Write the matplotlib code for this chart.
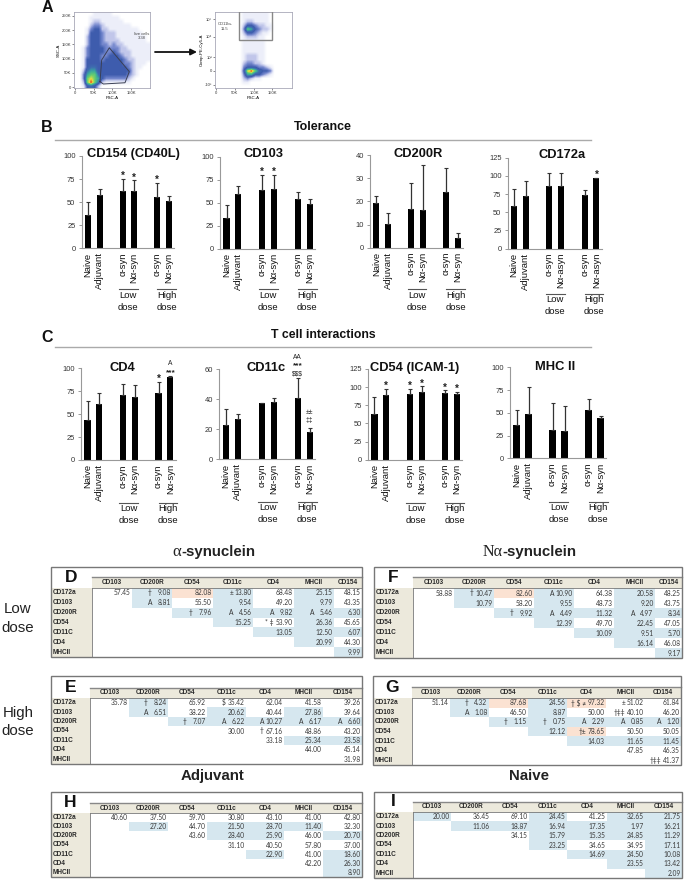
import matplotlib
matplotlib.use("Agg")
import matplotlib.pyplot as plt
from matplotlib.colors import LinearSegmentedColormap
from matplotlib.patches import Rectangle
import numpy as np

# ---------- data ----------
GROUPS = ["Naive", "Adjuvant", "α-syn", "Nα-syn", "α-syn", "Nα-syn"]
GROUPS_ASYN = ["Naive", "Adjuvant", "α-syn", "Nα-asyn", "α-syn", "Nα-asyn"]
SLOTS = [0, 1, 3, 4, 6, 7]

cd154_vals = [36, 58, 62.5, 62, 56, 51.5]
cd154_errs = [14, 6, 12.5, 11.5, 15, 5]
cd103_vals = [33, 59, 64, 65, 54, 49]
cd103_errs = [15, 9, 16, 15, 8, 5]
cd200r_vals = [19.5, 10.3, 16.8, 16.3, 24, 4.3]
cd200r_errs = [2.7, 4.9, 11, 19.3, 10.5, 1.9]
cd172a_vals = [58, 72, 86, 85.5, 74, 97]
cd172a_errs = [24, 20.5, 18, 18.5, 6, 0.5]
cd4_vals = [44, 61.5, 70.5, 68.5, 73.5, 90.5]
cd4_errs = [20, 12, 12.5, 13, 11.5, 1]
cd11c_vals = [23, 27, 37.5, 38, 41, 18]
cd11c_errs = [10.5, 3, 0.2, 3, 13, 3]
cd54_vals = [63.5, 89, 90, 93, 92, 90]
cd54_errs = [22.5, 9, 8, 8, 3.5, 3]
mhc_vals = [37, 49, 31, 29.5, 53, 44.5]
mhc_errs = [16, 29, 30, 28.5, 12, 2.5]

ROW_LABELS = ["CD172a", "CD103", "CD200R", "CD54", "CD11C", "CD4", "MHCII"]
COL_LABELS = ["CD103", "CD200R", "CD54", "CD11c", "CD4", "MHCII", "CD154"]

d_values = [["57.45", "9.08", "82.08", "13.80", "68.48", "25.15", "48.15"],
            ["8.81", "55.50", "9.54", "49.20", "9.79", "43.35"],
            ["7.96", "4.56", "9.82", "5.46", "6.30"],
            ["15.25", "53.90", "26.36", "45.65"],
            ["13.05", "12.50", "6.07"],
            ["20.99", "44.30"],
            ["9.99"]]
d_shade = [".bpb.b.", " b.b.b.", "  bbbbb", "   b.b.", "    bbb", "     b.", "      b"]
d_marks = {(0, 1): "†", (0, 3): "±", (1, 1): "A", (2, 2): "†", (2, 3): "A",
           (2, 4): "A", (2, 5): "A", (3, 4): "* ‡"}

e_values = [["35.78", "8.24", "65.92", "35.42", "62.04", "41.58", "39.26"],
            ["6.51", "38.22", "20.62", "40.44", "27.86", "39.64"],
            ["7.07", "6.22", "10.27", "6.17", "6.60"],
            ["30.00", "67.16", "48.86", "43.20"],
            ["33.18", "25.34", "23.58"],
            ["44.00", "45.14"],
            ["31.98"]]
e_shade = [".b.....", " b.b.b.", "  bbbbb", "   ....", "    .bb", "     ..", "      ."]
e_marks = {(0, 1): "†", (0, 3): "$", (1, 1): "A", (2, 2): "†", (2, 3): "A",
           (2, 4): "A", (2, 5): "A", (2, 6): "A", (3, 4): "†"}

f_values = [["58.88", "10.47", "82.60", "10.90", "64.38", "20.58", "48.25"],
            ["10.79", "58.20", "9.55", "48.73", "9.20", "43.75"],
            ["9.92", "4.49", "11.32", "4.97", "8.34"],
            ["12.39", "49.70", "22.45", "47.05"],
            ["10.09", "9.51", "5.70"],
            ["16.14", "46.08"],
            ["9.17"]]
f_shade = [".bpb.b.", " b.b.b.", "  bbbbb", "   b.b.", "    bbb", "     b.", "      b"]
f_marks = {(0, 1): "†", (0, 3): "A", (2, 2): "†", (2, 3): "A", (2, 5): "A"}

g_values = [["51.14", "4.32", "87.68", "24.56", "97.32", "51.02", "61.84"],
            ["1.08", "46.50", "8.87", "50.00", "40.10", "46.20"],
            ["1.15", "0.75", "2.29", "0.85", "1.20"],
            ["12.12", "78.65", "50.50", "50.05"],
            ["14.03", "11.65", "11.45"],
            ["47.85", "46.35"],
            ["41.37"]]
g_shade = [".bpbp..", " b.b...", "  bbbbb", "   bp..", "    bbb", "     ..", "      ."]
g_marks = {(0, 1): "†", (0, 4): "† $ ≠", (0, 5): "±", (1, 1): "A", (1, 5): "†‡‡",
           (2, 2): "†", (2, 3): "†", (2, 4): "A", (2, 5): "A", (2, 6): "A",
           (3, 4): "†±", (6, 6): "†‡‡"}

h_values = [["40.60", "37.50", "59.70", "30.80", "43.10", "41.00", "42.80"],
            ["27.20", "44.70", "21.50", "28.70", "11.40", "32.30"],
            ["43.60", "28.40", "25.90", "46.00", "20.70"],
            ["31.10", "40.50", "57.80", "37.00"],
            ["22.90", "41.00", "18.60"],
            ["42.20", "26.30"],
            ["8.90"]]
h_shade = [".......", " b.bbb.", "  .bb.b", "   ....", "    b.b", "     .b", "      b"]

i_values = [["20.00", "36.45", "69.10", "24.45", "41.25", "32.65", "21.75"],
            ["11.06", "18.87", "16.94", "17.35", "1.97", "16.21"],
            ["34.15", "15.79", "15.35", "24.85", "11.29"],
            ["23.25", "34.65", "34.95", "17.11"],
            ["14.69", "24.50", "10.08"],
            ["23.55", "13.42"],
            ["2.09"]]
i_shade = ["b..b.bb", " bbbbbb", "  .bbbb", "   b..b", "    bbb", "     bb", "      b"]

# flow cytometry density, coarse grid (0 empty ... 9 peak)
density_left = np.array([
    [0,0,0,0,0,1,1,1,1,1,0,0,0,0,0,0,0,0,0,0],
    [0,0,0,0,1,1,1,1,1,1,1,1,0,0,0,0,0,0,0,0],
    [0,0,0,0,1,2,2,1,1,1,1,1,1,0,0,0,0,0,0,0],
    [0,0,0,0,2,3,3,2,1,1,1,1,1,1,1,0,0,0,0,0],
    [0,0,0,1,3,4,4,2,2,1,1,1,1,1,1,1,1,0,0,0],
    [0,0,0,1,4,4,4,3,2,2,2,1,1,1,1,1,1,1,0,0],
    [0,0,0,2,4,4,4,3,2,2,2,1,1,1,1,1,1,1,1,0],
    [0,0,0,2,4,4,4,3,2,2,2,2,1,1,1,1,1,1,1,0],
    [0,0,0,2,4,4,4,3,3,2,3,2,2,1,1,1,1,1,1,1],
    [0,0,1,3,4,4,4,4,3,3,3,3,2,2,1,1,1,1,1,1],
    [0,0,1,3,4,4,4,4,3,3,4,3,2,2,2,1,1,1,1,1],
    [0,0,1,3,4,4,4,3,3,4,4,4,3,2,2,1,1,1,1,1],
    [0,0,1,4,4,4,4,3,4,4,4,4,4,3,2,2,1,1,1,1],
    [0,0,1,4,4,4,4,4,4,4,4,4,4,3,3,2,1,1,1,0],
    [0,0,1,4,5,5,4,4,4,4,4,4,4,4,3,2,1,1,0,0],
    [0,0,2,5,6,6,4,4,4,4,4,4,4,4,4,2,1,0,0,0],
    [0,0,3,6,7,7,5,4,4,4,4,4,4,4,3,2,1,0,0,0],
    [0,0,3,7,8,7,6,4,3,3,3,3,3,3,2,1,0,0,0,0],
    [0,0,2,7,9,7,5,2,1,1,1,1,1,1,1,0,0,0,0,0],
    [0,0,1,4,5,4,2,0,0,0,0,0,0,0,0,0,0,0,0,0]], float)
density_right = np.array([
    [0,0,0,0,0,0,0,1,1,1,1,1,1,1,0,0,0,0,0,0],
    [0,0,0,0,0,0,0,1,1,1,1,1,1,1,0,0,0,0,0,0],
    [0,0,0,0,0,0,0,1,2,2,1,1,1,1,0,0,0,0,0,0],
    [0,0,0,0,0,0,0,2,4,4,3,2,2,1,1,0,0,0,0,0],
    [0,0,0,0,0,0,0,3,7,6,4,3,2,2,1,0,0,0,0,0],
    [0,0,0,0,0,0,0,2,4,4,3,2,1,1,0,0,0,0,0,0],
    [0,0,0,0,0,0,0,1,2,2,2,1,1,0,0,0,0,0,0,0],
    [0,0,0,0,0,0,0,1,1,1,1,1,1,0,0,0,0,0,0,0],
    [0,0,0,0,0,0,0,1,1,1,1,1,1,0,0,0,0,0,0,0],
    [0,0,0,0,0,0,0,1,1,1,1,1,1,0,0,0,0,0,0,0],
    [0,0,0,0,0,0,0,1,1,1,1,1,1,0,0,0,0,0,0,0],
    [0,0,0,0,0,0,0,1,2,2,2,1,1,0,0,0,0,0,0,0],
    [0,0,0,0,0,0,0,1,2,2,2,1,1,0,0,0,0,0,0,0],
    [0,0,0,0,0,0,0,2,3,3,2,2,1,0,0,0,0,0,0,0],
    [0,0,0,0,0,0,0,3,4,4,4,3,3,2,1,0,0,0,0,0],
    [0,0,0,0,0,0,0,4,8,9,7,5,4,4,3,0,0,0,0,0],
    [0,0,0,0,0,0,0,3,6,6,4,4,3,2,1,0,0,0,0,0],
    [0,0,0,0,0,0,0,2,3,2,1,1,0,0,0,0,0,0,0,0],
    [0,0,0,0,0,0,0,1,1,0,0,0,0,0,0,0,0,0,0,0],
    [0,0,0,0,0,0,0,0,0,0,0,0,0,0,0,0,0,0,0,0]], float)
gate_fsc = [67, 71.5, 92, 145.5, 134, 76, 67]
gate_ssc = [18.7, 95, 138, 54, 15, 10.6, 18.7]

# ---------- figure ----------
W, H = 685, 881
fig = plt.figure(figsize=(W / 100, H / 100), dpi=100, facecolor="white")
SANS = ["Liberation Sans", "DejaVu Sans"]
CELL = ["Lato", "DejaVu Sans"]
plt.rcParams["font.family"] = SANS


def axes_px(x0, x1, y_top, y_bot, **kw):
    return fig.add_axes([x0 / W, 1 - y_bot / H, (x1 - x0) / W, (y_bot - y_top) / H], **kw)


ov = fig.add_axes([0, 0, 1, 1], zorder=20)
ov.set_xlim(0, W)
ov.set_ylim(H, 0)
ov.axis("off")
ov.patch.set_alpha(0)

# ---------- panel A ----------
facs = LinearSegmentedColormap.from_list("facs", [
    (0 / 9, "#ffffff"), (1 / 9, "#eceef9"), (2 / 9, "#c0c6ea"), (3 / 9, "#7487cd"),
    (4 / 9, "#3e5cad"), (5 / 9, "#3f6cb0"), (6 / 9, "#3aa6a0"), (7 / 9, "#62cc72"),
    (8 / 9, "#e6df42"), (9 / 9, "#ee2c1c")])


def style_facs(ax):
    for s in ax.spines.values():
        s.set_color("#a8a8b8")
        s.set_linewidth(0.6)
    ax.tick_params(labelsize=3.0, length=1.2, width=0.4, pad=0.8, colors="#333333")


ax = axes_px(74, 150, 12, 88)
ax.imshow(density_left, cmap=facs, vmin=0, vmax=9, interpolation="bilinear",
          extent=[-2.7, 201, -3.5, 264], aspect="auto", zorder=1)
ax.plot(gate_fsc, gate_ssc, color="#3a3f55", lw=0.7, zorder=2)
ax.set_xticks([0, 50, 100, 150], ["0", "50K", "100K", "150K"])
ax.set_yticks([0, 50, 100, 150, 200, 250], ["0", "50K", "100K", "150K", "200K", "250K"])
style_facs(ax)
ax.set_xlabel("FSC-A", fontsize=3.2, labelpad=1)
ax.set_ylabel("SSC-A", fontsize=3.2, labelpad=1)
ax.text(178, 180, "live cells\n3.38", fontsize=3.0, ha="center", va="center", color="#444444")

ax = axes_px(215, 292, 12, 88)
ax.imshow(density_right, cmap=facs, vmin=0, vmax=9, interpolation="bilinear",
          extent=[215, 292, 88, 12], aspect="auto", zorder=1)
ax.set_xlim(215, 292)
ax.set_ylim(88, 12)
ax.set_xticks([216, 235, 254, 272], ["0", "50K", "100K", "150K"])
ax.set_yticks([85, 70.7, 57.3, 36.7, 19.3], ["-10³", "0", "10³", "10⁴", "10⁵"])
style_facs(ax)
ax.add_patch(Rectangle((239, 11), 33, 29, fill=False, ec="#888888", lw=1.0, zorder=3, clip_on=True))
ax.text(225, 26.5, "CD11b+\n11.5", fontsize=3.0, ha="center", va="center", color="#444444")
ax.set_xlabel("FSC-A", fontsize=3.2, labelpad=1)
ax.set_ylabel("Comp-PE-Cy5-A", fontsize=3.2, labelpad=1)

ov.annotate("", xy=(197, 52), xytext=(155, 52),
            arrowprops=dict(arrowstyle="-|>", color="#111111", lw=1.3, mutation_scale=9,
                            shrinkA=0, shrinkB=0))

# ---------- bar panels ----------
PANELS = [
    ("CD154 (CD40L)", 133, 154, cd154_vals, cd154_errs, 100, [0, 25, 50, 75, 100], 81.7, 174, 156, 248.3, 289, GROUPS,
     [(2, "*", 0), (3, "*", 0), (4, "*", 0)]),
    ("CD103", 264, 154, cd103_vals, cd103_errs, 100, [0, 25, 50, 75, 100], 220, 315, 156.7, 248.7, 289, GROUPS,
     [(2, "*", 0), (3, "*", 0)]),
    ("CD200R", 418, 154, cd200r_vals, cd200r_errs, 40, [0, 10, 20, 30, 40], 370, 463, 155.3, 247.7, 289, GROUPS, []),
    ("CD172a", 562, 155, cd172a_vals, cd172a_errs, 125, [0, 25, 50, 75, 100, 125], 507.7, 601.7, 157.7, 248.7, 294, GROUPS_ASYN,
     [(5, "*", 0)]),
    ("CD4", 122, 368, cd4_vals, cd4_errs, 100, [0, 25, 50, 75, 100], 81, 175.7, 368.3, 460, 502.7, GROUPS,
     [(4, "*", 0), (5, "***", 0), (5, "A", 8)]),
    ("CD11c", 266, 368, cd11c_vals, cd11c_errs, 60, [0, 20, 40, 60], 219.3, 315, 369, 459.3, 501.7, GROUPS,
     [(4, "$$$", -1), (4, "***", 9), (4, "AA", 16), (5, "‡‡", 2), (5, "±±", 10)]),
    ("CD54 (ICAM-1)", 415, 368, cd54_vals, cd54_errs, 125, [0, 25, 50, 75, 100, 125], 368, 462.3, 369, 459.7, 502.7, GROUPS,
     [(1, "*", 0), (2, "*", 0), (3, "*", 0), (4, "*", 0), (5, "*", 0)]),
    ("MHC II", 555, 367, mhc_vals, mhc_errs, 100, [0, 25, 50, 75, 100], 510, 606, 367.3, 458.3, 501.7, GROUPS, []),
]

for title, tx, ty, vals, errs, ymax, ticks, x0, x1, yt, yb, by, labels, marks in PANELS:
    ax = axes_px(x0, x1, yt, yb)
    ax.patch.set_alpha(0)
    ax.bar(SLOTS, vals, width=0.52, color="black")
    ax.errorbar(SLOTS, vals, yerr=[np.zeros(6), errs], fmt="none", ecolor="#333333",
                elinewidth=0.9, capsize=1.6, capthick=0.8)
    ax.set_xlim(-0.55, 7.45)
    ax.set_ylim(0, ymax)
    ax.set_yticks(ticks)
    ax.tick_params(axis="y", labelsize=5.4, length=2.5, width=0.6, color="#888888",
                   labelcolor="#333333", pad=2)
    ax.set_xticks(SLOTS, labels, rotation=90, fontsize=6.8, color="#111111")
    ax.tick_params(axis="x", length=0, pad=3)
    for s in ("top", "right"):
        ax.spines[s].set_visible(False)
    for s in ("left", "bottom"):
        ax.spines[s].set_color("#999999")
        ax.spines[s].set_linewidth(0.8)
    for idx, lab, off in marks:
        top = vals[idx] + errs[idx]
        is_star = lab.strip("*") == ""
        ax.annotate(lab, xy=(SLOTS[idx], top), xytext=(0, (3 if is_star else 5) + off),
                    textcoords="offset pixels", ha="center", va="center",
                    fontsize=(7.0 if lab == "*" else 6.0) if is_star else 4.8, color="#222222",
                    fontweight="bold" if is_star else "normal", annotation_clip=False)
    ov.text(tx, ty, title, fontsize=9.3, fontweight="bold", ha="center", va="center", color="#111111")
    slot = (x1 - x0) / 8
    for center, word in ((3.5, "Low"), (6.8, "High")):
        cx = x0 + (center + 0.55) * slot
        ov.plot([cx - 0.8 * slot, cx + 0.8 * slot], [by, by], color="#555555", lw=0.8)
        ov.text(cx, by + 6, word, fontsize=6.8, ha="center", va="center", color="#111111")
        ov.text(cx, by + 18, "dose", fontsize=6.8, ha="center", va="center", color="#111111")

# ---------- section headers ----------
for lab, x, y in (("A", 47, 8), ("B", 47, 127), ("C", 47, 337)):
    ov.text(x, y, lab, fontsize=11.5, fontweight="bold", ha="center", va="center", color="#111111")
ov.text(323, 127, "Tolerance", fontsize=8.9, fontweight="bold", ha="center", va="center", color="#111111")
ov.text(323, 335, "T cell interactions", fontsize=8.8, fontweight="bold", ha="center", va="center", color="#111111")
for y in (140, 347):
    ov.plot([55, 591], [y, y], color="#aaaaaa", lw=1.0)

# ---------- group titles ----------
ov.text(181, 552, "α", fontsize=12, family="Liberation Serif", ha="right", va="center", color="#222222")
ov.text(181, 552, "-synuclein", fontsize=10.8, fontweight="bold", ha="left", va="center", color="#222222")
ov.text(503, 552, "Nα", fontsize=11.5, family="Liberation Serif", ha="right", va="center", color="#222222")
ov.text(502, 552, "-synuclein", fontsize=10.8, fontweight="bold", ha="left", va="center", color="#222222")
ov.text(213, 776, "Adjuvant", fontsize=10.8, fontweight="bold", ha="center", va="center", color="#222222")
ov.text(529, 776, "Naive", fontsize=10.8, fontweight="bold", ha="center", va="center", color="#222222")
for word, x, y in (("Low", 18, 609), ("dose", 18, 628), ("High", 18, 713), ("dose", 18, 731)):
    ov.text(x, y, word, fontsize=10.8, ha="center", va="center", color="#222222")

# ---------- tables ----------
BLUE = "#d6e7ef"
PEACH = "#fbe2d2"
BEIGE = "#ece9dc"


def table(letter, x0, x1, y0, y1, head_top, head_bot, cols, values, shade, marks):
    ov.add_patch(Rectangle((x0, head_bot), cols[0] - x0, y1 - head_bot, fc=BEIGE, ec="none", zorder=1))
    ov.add_patch(Rectangle((cols[0], head_top), x1 - cols[0], head_bot - head_top, fc=BEIGE, ec="none", zorder=1))
    ov.plot([cols[0], x1], [head_top, head_top], color="#888888", lw=1.0, zorder=3)
    ov.plot([cols[0], x1], [head_bot, head_bot], color="#777777", lw=0.6, zorder=3)
    ov.plot([cols[0], cols[0]], [head_bot, y1], color="#777777", lw=0.6, zorder=3)
    h = (y1 - head_bot) / 7
    for c, lab in enumerate(COL_LABELS):
        ov.text((cols[c] + cols[c + 1]) / 2, (head_top + head_bot) / 2, lab, fontsize=4.7,
                fontweight="bold", ha="center", va="center", color="#2a2a2a", zorder=4)
    for r, lab in enumerate(ROW_LABELS):
        yc = head_bot + (r + 0.5) * h
        ov.text(x0 + 2, yc, lab, fontsize=4.7, fontweight="bold", ha="left",
                va="center", color="#2a2a2a", zorder=4)
        for k, val in enumerate(values[r]):
            c = r + k
            code = shade[r][c]
            if code in "bp":
                ov.add_patch(Rectangle((cols[c], head_bot + r * h), cols[c + 1] - cols[c], h,
                                       fc=BLUE if code == "b" else PEACH, ec="none", zorder=1))
            ov.text(cols[c + 1] - 1.5, yc, val, fontsize=4.8, family=CELL, ha="right", va="center",
                    color="#3a3a3a", zorder=4)
            if (r, c) in marks:
                ov.text(cols[c + 1] - 20, yc, marks[(r, c)], fontsize=4.8, family=CELL, ha="right",
                        va="center", color="#333333", zorder=4)
    ov.add_patch(Rectangle((x0, y0), x1 - x0, y1 - y0, fill=False, ec="#777777", lw=1.0, zorder=5))
    ov.text((x0 + cols[0]) / 2, (y0 + head_bot) / 2, letter, fontsize=12.5, fontweight="bold",
            ha="center", va="center", color="#111111", zorder=6)


table("D", 51, 362, 567, 657, 577, 588, [92, 132, 172, 213, 253, 294, 334, 362], d_values, d_shade, d_marks)
table("E", 51, 362, 676, 764, 688, 698, [90, 129, 168, 207, 246, 284, 323, 362], e_values, e_shade, e_marks)
table("F", 374, 682, 567, 658, 577, 588, [413, 454, 494, 534, 574, 614, 655, 682], f_values, f_shade, f_marks)
table("G", 373, 681, 676, 765, 687, 698, [412, 450, 489, 528, 567, 606, 645, 681], g_values, g_shade, g_marks)
table("H", 51, 362, 792, 877, 803, 813, [90, 129, 168, 207, 246, 284, 323, 362], h_values, h_shade, {})
table("I", 374, 682, 792, 878, 802, 812, [413, 451, 491, 529, 567, 607, 645, 682], i_values, i_shade, {})

fig.savefig("out.png", dpi=100, facecolor="white")
